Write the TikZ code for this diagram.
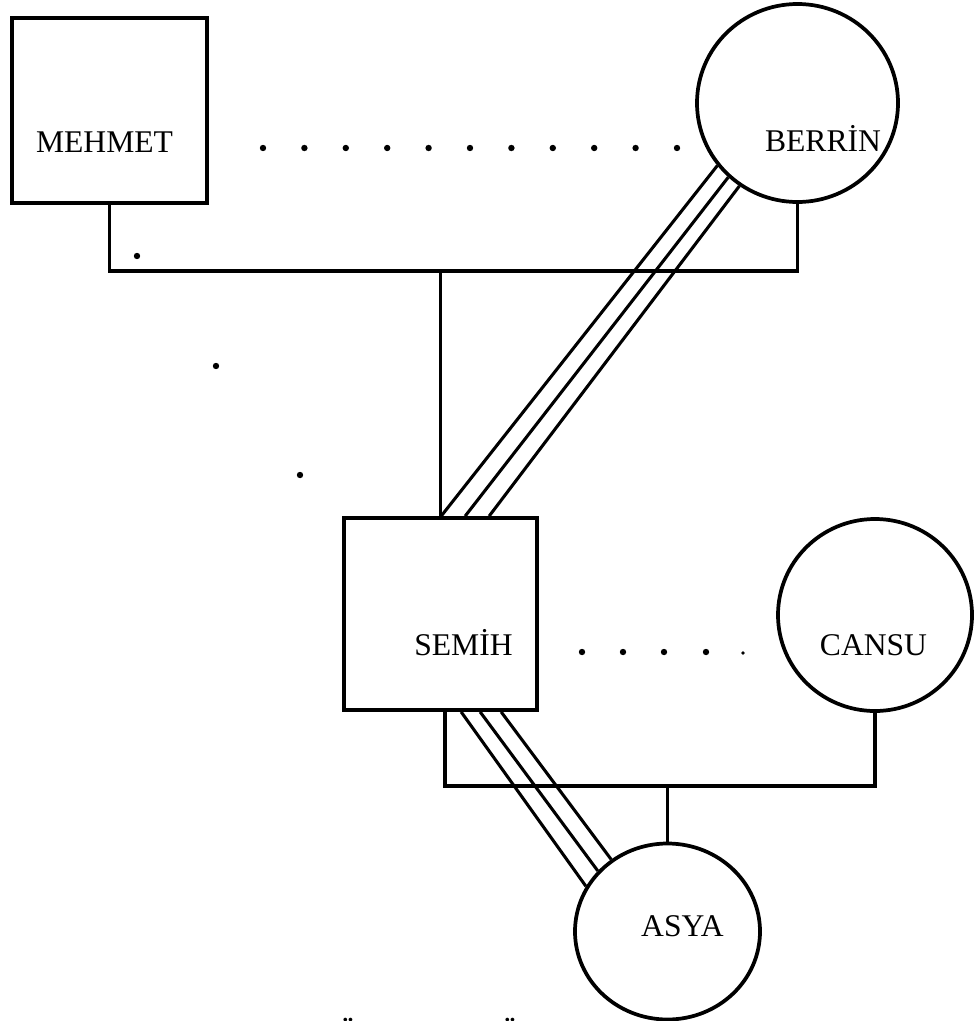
\documentclass[tikz,border=0pt]{standalone}
\usepackage{fontspec}
\setmainfont{Liberation Serif}
\usetikzlibrary{calc,shapes.geometric}
\begin{document}
\begin{tikzpicture}[x=0.75pt,y=-0.75pt,
  every node/.style={font=\fontsize{23.7}{28}\selectfont},
  person/.style={draw,line width=2.8pt,inner sep=0pt},
  boxperson/.style={person,rectangle},
  roundperson/.style={person,ellipse},
  link/.style={line width=2.7pt,line join=miter},
  triple/.style={line width=2.3pt},
  lbl/.style={anchor=base,inner sep=0pt},
  dotmark/.style={fill=black}]
\useasboundingbox (0,0) rectangle (975,1021);
% persons
\node[boxperson,minimum width=146.25pt,minimum height=138.75pt] (mehmet) at (109.5,110.5) {};
\node[boxperson,minimum width=144.75pt,minimum height=144pt] (semih) at (440.5,614) {};
\node[roundperson,minimum width=150.75pt,minimum height=148.5pt] (berrin) at (797.5,103) {};
\node[roundperson,minimum width=145.5pt,minimum height=144pt] (cansu) at (875,615) {};
\node[roundperson,minimum width=138.75pt,minimum height=132pt] (asya) at (667.5,931.5) {};
% labels
\node[lbl] (tmehmet) at (104.5,152) {MEHMET};
\node[lbl] (tberrin) at (823,151) {BERRİN};
\node[lbl] (tsemih) at (463.5,655) {SEMİH};
\node[lbl] (tcansu) at (873.5,655) {CANSU};
\node[lbl] (tasya) at (682.5,936) {ASYA};
% bars
\coordinate (ybar1) at (0,271);
\coordinate (ybar2) at (0,786);
\draw[link] (mehmet.south) -- (mehmet.south |- ybar1) -| (berrin.south);
\draw[link] (semih.north) -- (semih.north |- ybar1);
\coordinate (semihstem) at ($(semih.south west)+(103,0)$);
\draw[link] (semihstem) -- (semihstem |- ybar2) -| (cansu.south);
\draw[link] (asya.north) -- (asya.north |- ybar2);
% triple lines
\draw[triple] ($(semih.north west)+(99,0)$) -- (berrin.218.8);
\draw[triple] ($(semih.north west)+(123,0)$) -- (berrin.227.6);
\draw[triple] ($(semih.north west)+(147,0)$) -- (berrin.235.7);
\draw[triple] ($(semih.south west)+(119,0)$) -- (asya.151);
\draw[triple] ($(semih.south west)+(138,0)$) -- (asya.139.4);
\draw[triple] ($(semih.south west)+(159,0)$) -- (asya.128.3);
% dots
\foreach \i in {0,...,10} {\fill[dotmark] (263+41.4*\i,148) circle[radius=2.4pt];}
\foreach \p in {(137,256),(216,366),(300,475)} {\fill[dotmark] \p circle[radius=2.4pt];}
\foreach \xx in {582,623,664,706} {\fill[dotmark] (\xx,652) circle[radius=2.4pt];}
\fill[dotmark] (743,653) circle[radius=1.4pt];
% cut-off bottom text
\node[anchor=north,inner sep=0pt,font=\fontsize{23.7}{28}\selectfont\bfseries] (cut1) at (348,1018) {Ö};
\node[anchor=north,inner sep=0pt,font=\fontsize{23.7}{28}\selectfont\bfseries] (cut2) at (510,1018) {Ö};
\end{tikzpicture}
\end{document}
